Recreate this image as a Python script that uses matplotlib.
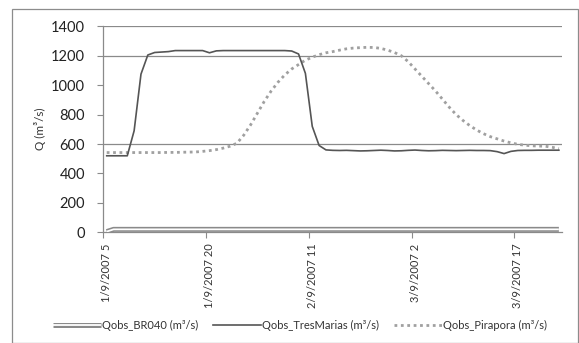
import numpy as np
import matplotlib
matplotlib.use("Agg")
import matplotlib.pyplot as plt
from matplotlib.patches import Rectangle
from matplotlib.legend_handler import HandlerTuple

plt.rcParams['font.family'] = ['Lato', 'DejaVu Sans']

# hourly series, starting 1/9/2007 5h
q_br040 = [5] + [20] * 66

q_tresmarias = [520, 520, 520, 520, 690, 1075, 1205, 1222, 1225, 1228,
                1235, 1235, 1235, 1235, 1235, 1220, 1233, 1235, 1235, 1235,
                1235, 1235, 1235, 1235, 1235, 1235, 1235, 1232, 1212, 1080,
                720, 590, 560, 557, 556, 557, 555, 553, 554, 556,
                558, 556, 553, 554, 557, 559, 556, 554, 555, 557,
                556, 555, 556, 557, 556, 556, 555, 548, 535, 550,
                556, 557, 557, 558, 558, 558, 558]

q_pirapora = [542, 542, 542, 542, 542, 542, 542, 542, 542, 543,
              543, 544, 545, 546, 550, 555, 562, 572, 585, 605,
              660, 730, 810, 890, 960, 1020, 1070, 1110, 1140, 1170,
              1190, 1207, 1220, 1228, 1238, 1247, 1252, 1255, 1257, 1256,
              1250, 1238, 1222, 1200, 1160, 1110, 1060, 1010, 960, 905,
              850, 800, 760, 725, 695, 670, 650, 635, 620, 608,
              598, 592, 588, 586, 585, 578, 568]

tick_pos = [0, 15, 30, 45, 60]
tick_labels = ["1/9/2007 5", "1/9/2007 20", "2/9/2007 11", "3/9/2007 2", "3/9/2007 17"]

n = len(q_tresmarias)
x = np.arange(n) + 0.5

fig = plt.figure(figsize=(5.79, 3.43), dpi=100)
fig.patches.append(Rectangle((12 / 579, 0.0), 565.5 / 579, 1 - 8 / 343 - 0.002,
                             transform=fig.transFigure, fill=False,
                             edgecolor="#8c8c8c", lw=0.9))

ax = fig.add_axes([103.3 / 579, 1 - 232.3 / 343, 459 / 579, 206 / 343])
ax.set_xlim(0, n)
ax.set_ylim(0, 1400)

for g in [600, 1200, 1400]:
    ax.axhline(g, color="#8a8a8a", lw=0.9, zorder=1)

br_out, = ax.plot(x, q_br040, color="#8a8a8a", lw=3.6, solid_capstyle="butt", zorder=3)
br_in, = ax.plot(x, q_br040, color="white", lw=1.3, solid_capstyle="butt", zorder=4)
tm, = ax.plot(x, q_tresmarias, color="#555555", lw=1.2, zorder=3)
pp, = ax.plot(x, q_pirapora, color="#a0a0a0", lw=2.0, dashes=(1, 1.3),
              dash_capstyle="butt", zorder=2)

for s in ["top", "right"]:
    ax.spines[s].set_visible(False)
for s in ["left", "bottom"]:
    ax.spines[s].set_color("#8a8a8a")
    ax.spines[s].set_linewidth(0.9)

ax.set_yticks(range(0, 1401, 200))
ax.tick_params(axis="y", length=4, color="#8a8a8a", pad=9, labelsize=10.5, labelcolor="#222222")

ax.set_xticks(tick_pos)
ax.set_xticklabels([])
ax.tick_params(axis="x", which="major", length=4, color="#8a8a8a")
ax.set_xticks([p + 0.5 for p in tick_pos], minor=True)
ax.set_xticklabels(tick_labels, minor=True, rotation=90, fontsize=8, color="#333333")
ax.tick_params(axis="x", which="minor", length=0, pad=8)

fig.text(40 / 579, 1 - 129 / 343, "Q (m³/s)", rotation=90, ha="center", va="center",
         fontsize=8.5, color="#333333")

fig.legend([(br_out, br_in), tm, pp],
           ["Qobs_BR040 (m³/s)", "Qobs_TresMarias (m³/s)", "Qobs_Pirapora (m³/s)"],
           handler_map={tuple: HandlerTuple(ndivide=1, pad=0)},
           loc="center", bbox_to_anchor=(300 / 579, 1 - 325 / 343), ncol=3,
           frameon=False, fontsize=8, handlelength=4.3, handletextpad=0.15,
           columnspacing=1.3, labelcolor="#333333")

fig.savefig("out.png", dpi=100)
